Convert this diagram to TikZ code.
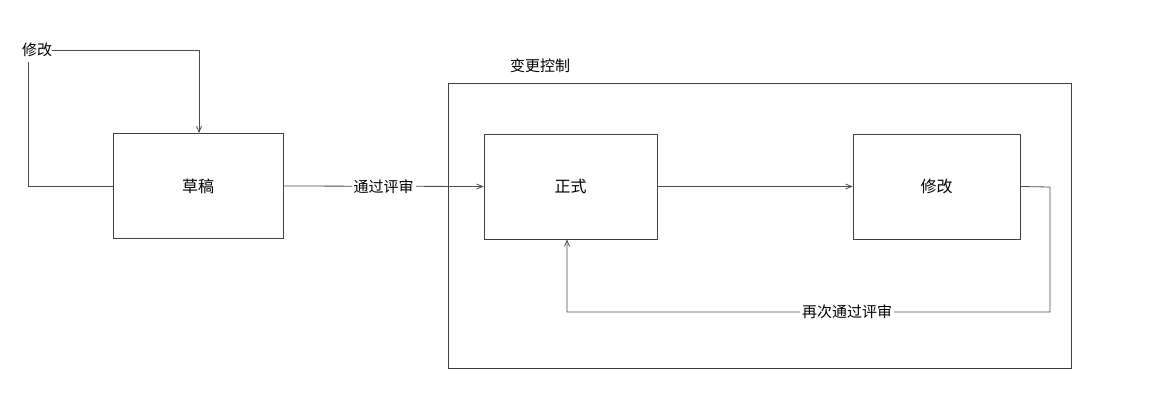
\documentclass[tikz,border=0pt]{standalone}
\usepackage{fontspec}
\usetikzlibrary{arrows.meta}
\setmainfont{Noto Sans CJK SC}
\begin{document}
\begin{tikzpicture}[x=1pt,y=-1pt,
  bx/.style={draw=black!75,line width=0.8pt,minimum width=170pt,minimum height=105pt,inner sep=0pt},
  ln/.style={draw=black!70,line width=0.8pt},
  lbl/.style={fill=white,inner sep=2pt,font=\fontsize{15}{18}\selectfont},
  arr/.style={ln,-{Straight Barb[length=6pt,width=5pt]}}]
\useasboundingbox (0,0) rectangle (1154,414);
\node[bx] (draft) at (198,186) {\fontsize{16}{19}\selectfont 草稿};
\node[draw=black!75,line width=0.8pt,minimum width=623pt,minimum height=285pt] (ctrl) at (759.5,225.5) {};
\node[lbl,anchor=south west,fill=none] (ctrlL) at (508,75) {变更控制};
\node[bx,minimum width=173pt] (formal) at (570.5,186.5) {\fontsize{16}{19}\selectfont 正式};
\node[bx,minimum width=167pt] (mod) at (936.5,186.5) {\fontsize{16}{19}\selectfont 修改};
\node[lbl,anchor=west,inner sep=0pt] (modL) at (22,50) {修改};
\coordinate (c1) at (28,186);
\coordinate (c3) at (199,50);
\draw[ln] (draft.west) -- (c1) -- (28,62);
\draw[arr] (modL.east) -- (c3) -- (draft.north -| c3);
\draw[arr] (draft.east) -- node[lbl] {通过评审} (formal.west);
\draw[arr] (formal.east) -- (mod.west);
\coordinate (d1) at (1050,187);
\coordinate (d2) at (1050,312);
\coordinate (d3) at (567,312);
\draw[arr] (mod.east) -- (d1) -- (d2) -- node[lbl,pos=0.42] {再次通过评审} (d3) -- (formal.south -| d3);
\end{tikzpicture}
\end{document}
